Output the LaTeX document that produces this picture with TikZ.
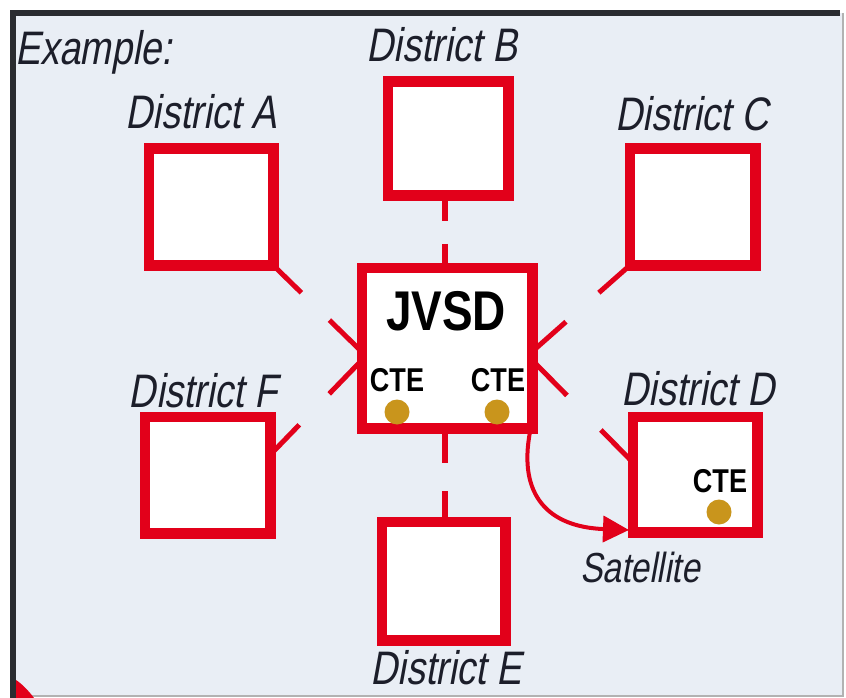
\documentclass[tikz,border=0pt]{standalone}
\usepackage{fontspec}
\usetikzlibrary{calc,arrows.meta}
\newfontfamily\labfont[FakeStretch=0.8,FakeSlant=0.18]{Liberation Sans}
\newfontfamily\boldfont[FakeStretch=0.82]{Liberation Sans}
\definecolor{bgblue}{HTML}{E9EEF5}
\definecolor{cred}{HTML}{E2001A}
\definecolor{frame}{HTML}{2A2C30}
\definecolor{dotgold}{HTML}{C9951C}
\definecolor{txt}{HTML}{1C1E2A}
\tikzset{
  distbox/.style={draw=cred,line width=7pt,fill=white,inner sep=0pt},
  lab/.style={inner sep=0pt,anchor=base,text=txt,font=\labfont\fontsize{47}{50}\selectfont},
  ctelab/.style={inner sep=0pt,anchor=base,text=black,font=\boldfont\bfseries\fontsize{33}{36}\selectfont},
  ctedot/.style={fill=dotgold,draw=none,circle,minimum size=25pt,inner sep=0pt},
  conn/.style={draw=cred,line width=5pt},
  vconn/.style={draw=cred,line width=6pt}
}
\begin{document}
\begin{tikzpicture}[x=1pt,y=-1pt]
\useasboundingbox (0,0) rectangle (846,698);
% background frame
\fill[white] (0,0) rectangle (846,698);
\fill[bgblue] (13,13) rectangle (843,696);
\draw[gray!60,line width=1.5pt] (843,13) -- (843,696) -- (13,696);
\fill[frame] (10,10) rectangle (840,16);
\fill[frame] (10,10) rectangle (16,698);
\fill[cred] (16,680) -- (16,698) -- (34,698) .. controls (28,690) and (22,684) .. cycle;

% boxes
\node[distbox,minimum width=121pt,minimum height=113pt] (A) at (211,207) {};
\node[distbox,minimum width=117pt,minimum height=110pt] (B) at (448,138.5) {};
\node[distbox,minimum width=122pt,minimum height=113pt] (C) at (692.5,207) {};
\node[distbox,minimum width=167pt,minimum height=157pt] (jvsd) at (447,348) {};
\node[distbox,minimum width=122pt,minimum height=113pt] (F) at (207.5,475) {};
\node[distbox,minimum width=121pt,minimum height=112pt] (D) at (695,474.5) {};
\node[distbox,minimum width=120pt,minimum height=115pt] (E) at (443.5,581) {};

% connector end points on the central box
\coordinate (jA) at ($(jvsd.west)+(0,2)$);
\coordinate (jF) at ($(jvsd.west)+(0,14)$);
\coordinate (jC) at ($(jvsd.east)+(0,2)$);
\coordinate (jD) at ($(jvsd.east)+(0,14)$);
\coordinate (jB) at (jvsd.north -| 445,0);
\coordinate (jE) at (jvsd.south -| 445,0);
\coordinate (bB) at (B.south -| 445,0);
\coordinate (tE) at (E.north -| 445,0);
\coordinate (fF) at ($(F.east)+(0,-22)$);
\coordinate (dD) at ($(D.west)+(0,-14)$);

% connectors with a gap
\draw[conn] (A.south east) -- ($(A.south east)!0.31!(jA)$);
\draw[conn] ($(A.south east)!0.64!(jA)$) -- (jA);
\draw[conn] (fF) -- ($(fF)!0.31!(jF)$);
\draw[conn] ($(fF)!0.65!(jF)$) -- (jF);
\draw[conn] (C.south west) -- ($(C.south west)!0.31!(jC)$);
\draw[conn] ($(C.south west)!0.66!(jC)$) -- (jC);
\draw[conn] (jD) -- ($(jD)!0.34!(dD)$);
\draw[conn] ($(jD)!0.69!(dD)$) -- (dD);
\draw[vconn] (bB) -- ($(bB)!0.35!(jB)$);
\draw[vconn] ($(bB)!0.68!(jB)$) -- (jB);
\draw[vconn] (jE) -- ($(jE)!0.37!(tE)$);
\draw[vconn] ($(jE)!0.68!(tE)$) -- (tE);

% redraw box borders over connector ends
\foreach \n in {A,B,C,jvsd,F,D,E} {
  \draw[cred,line width=7pt] (\n.north west) rectangle (\n.south east);
}

% labels
\node[inner sep=0pt,anchor=base west,text=txt,font=\labfont\fontsize{47}{50}\selectfont] (ex) at (15,65) {Example:};
\node[lab] (lA) at (201,129) {District A};
\node[lab] (lB) at (442,62) {District B};
\node[lab] (lC) at (692,131) {District C};
\node[lab] (lF) at (203,407) {District F};
\node[lab] (lD) at (698,405) {District D};
\node[lab] (lE) at (446,684) {District E};
\node[inner sep=0pt,anchor=base,text=txt,font=\labfont\fontsize{42}{45}\selectfont] (sat) at (640,582) {Satellite};

% JVSD content
\node[inner sep=0pt,anchor=base,text=black,font=\boldfont\bfseries\fontsize{56}{60}\selectfont] (jt) at (446,330) {JVSD};
\node[ctelab] (c1) at (397,391) {CTE};
\node[ctelab] (c2) at (498,391) {CTE};
\node[ctedot] (d1) at (397,412) {};
\node[ctedot] (d2) at (497,412) {};
\node[ctelab] (c3) at (720,492) {CTE};
\node[ctedot] (d3) at (719,512) {};

% satellite arrow
\draw[cred,line width=4pt,-{Triangle[length=26pt,width=26pt]}]
  ($(jvsd.south east)+(-4,2)$) .. controls (518,495) and (548,527) .. ($(D.south west)+(-2,-4)$);
\end{tikzpicture}
\end{document}
